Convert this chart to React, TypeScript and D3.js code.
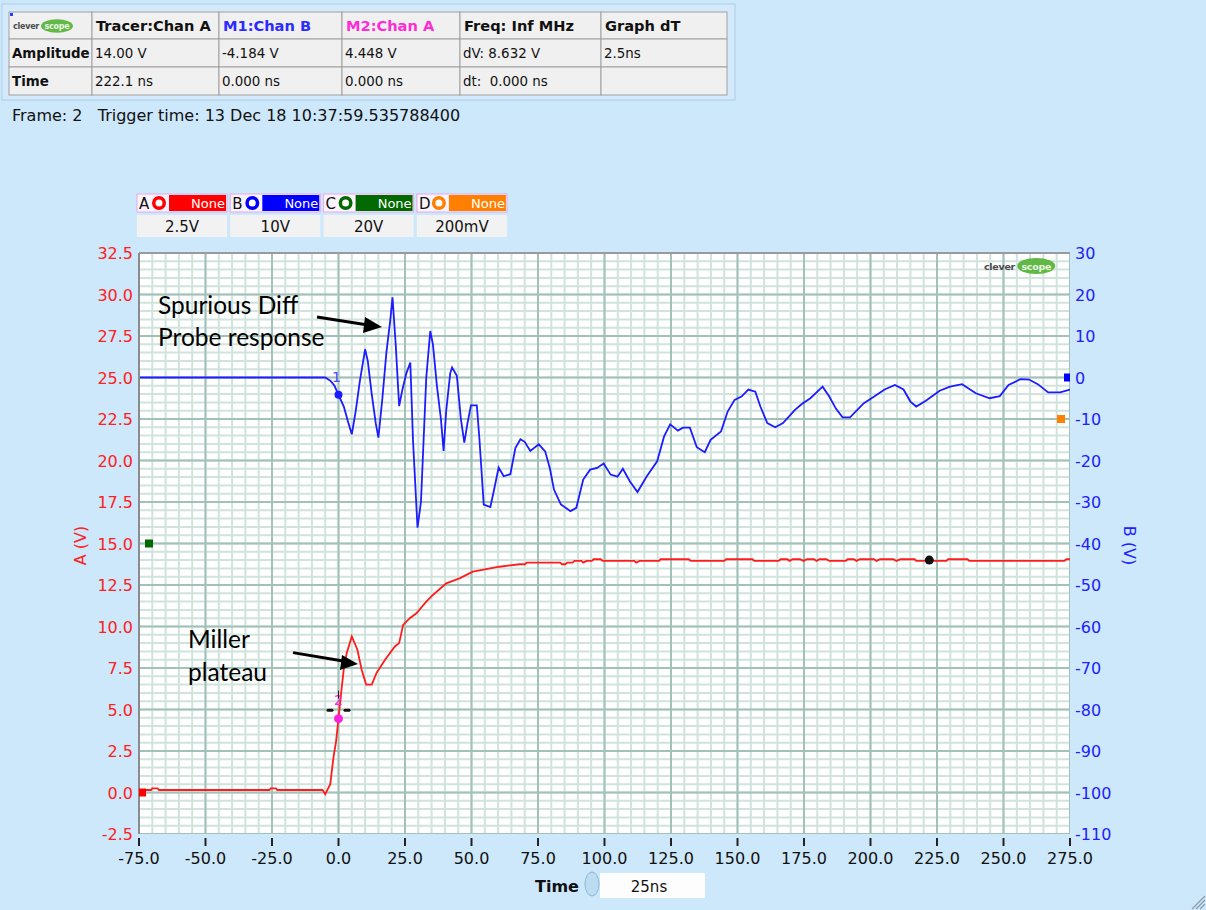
import * as d3 from "d3";
import React from "react";

// ---- data ----
const timeTicks = [-75, -50, -25, 0, 25, 50, 75, 100, 125, 150, 175, 200, 225, 250, 275];
const aTicks = [-2.5, 0, 2.5, 5, 7.5, 10, 12.5, 15, 17.5, 20, 22.5, 25, 27.5, 30, 32.5];
const bTicks = [30, 20, 10, 0, -10, -20, -30, -40, -50, -60, -70, -80, -90, -100, -110];

// Chan B (right axis, volts) vs time (ns)
const blueTrace: [number, number][] = [
  [-75, 0], [-5, 0], [-3, -0.8], [-1.5, -2], [0, -4.2], [2, -7], [3.5, -10.5], [5, -13.7],
  [6.5, -8], [8, -1], [10, 6.8], [11, 4], [12.5, -4], [14, -11], [15, -14.5], [16.5, -5],
  [18, 6], [19.5, 14], [20.3, 19.3], [21.5, 8], [22.8, -6.9], [24, -3], [25.5, 1], [27, 3.6],
  [28, -15], [29.7, -36.2], [31, -30], [32, -15], [33, 0], [34.5, 11.2], [35.5, 8], [37, -2],
  [38.5, -10], [39.5, -17.7], [40.5, -8], [42, 1], [42.7, 2.4], [44.5, 0.4], [46, -10],
  [47.3, -15.7], [48.5, -11], [49.8, -6.7], [52, -6.7], [53, -15], [54.6, -30.6], [57.1, -31.2],
  [58.5, -27], [60.2, -21.7], [62.1, -23.8], [64.6, -23.3], [66.5, -17], [68.4, -14.9],
  [70, -15.5], [72.1, -17.7], [75.3, -16.1], [77.7, -17.8], [79.5, -22], [81, -27], [83.6, -30.6],
  [87.2, -32.2], [89.4, -31.4], [92, -24.6], [94.6, -22.2], [97.2, -21.8], [99.7, -20.7],
  [102.3, -23.4], [104.9, -23.9], [106.9, -22], [109.5, -25], [112.4, -27.6], [115.9, -23.8],
  [119.8, -20.2], [122.4, -14.2], [124.7, -11.3], [127.6, -12.8], [129.5, -12.1], [132.1, -12.1],
  [134.7, -16.8], [137.7, -18], [139.9, -15], [143.8, -13], [146.3, -8.2], [148.9, -5.4],
  [151.5, -4.6], [154.1, -2.9], [156.7, -3.4], [158.6, -7], [161.2, -11], [164.2, -12],
  [167.1, -11], [171.6, -7.8], [174.2, -6.4], [177.4, -5], [182, -2.2], [184.5, -4.6],
  [187, -7.5], [189.5, -9.6], [192.3, -9.6], [197.5, -6.2], [201.4, -4.6], [205.3, -2.9],
  [209.2, -1.8], [212.4, -2.9], [215, -5.8], [217.2, -7], [220.8, -5.6], [226, -3.2],
  [229.9, -2.2], [234.4, -1.6], [239.6, -3.8], [244.8, -5], [248.6, -4.5], [251.9, -1.8],
  [256.4, -0.4], [259.6, -0.5], [262.9, -1.6], [266.8, -3.6], [271.3, -3.6], [275, -2.9],
];

// Chan A (left axis, volts) vs time (ns)
const redTrace: [number, number][] = [
  [-75, 0.15], [-70.5, 0.15], [-70, 0.25], [-68, 0.25], [-67.5, 0.15], [-26, 0.15], [-25.5, 0.25],
  [-23.5, 0.25], [-23, 0.15], [-6, 0.15], [-5, -0.1], [-3.1, 0.5], [-1.9, 2.1], [-0.9, 3.1],
  [0, 4.45], [1.2, 6.3], [2.1, 7.6], [3.1, 8.4], [5, 9.4], [7.1, 8.6], [8.7, 7.4], [10.4, 6.5],
  [12.5, 6.5], [14.3, 7.2], [17.5, 8.0], [21.2, 8.8], [22.8, 9.0], [24.3, 10.1], [26.8, 10.5],
  [29.3, 10.8], [33, 11.5], [35.5, 11.9], [40.5, 12.6], [45.5, 12.9], [50.5, 13.3], [55.5, 13.45],
  [60.5, 13.6], [68.1, 13.75], [70.1, 13.75], [70.8, 13.85], [83.4, 13.85], [84, 13.75],
  [85.3, 13.75], [86, 13.85], [88, 13.85], [88.7, 13.95], [91.3, 13.95], [92, 13.85], [93.3, 13.95],
  [95.3, 13.95], [95.9, 14.05], [98.6, 14.05], [99.3, 13.95], [111.2, 13.95], [111.9, 13.85],
  [113.2, 13.95], [120.5, 13.95], [121.1, 14.05], [131.7, 14.05], [132.4, 13.95], [145, 13.95],
  [145.7, 14.05], [155.6, 14.05], [156.3, 13.95], [165.5, 13.95], [166.2, 14.05], [168.8, 14.05],
  [169.5, 13.95], [170.8, 14.05], [173.5, 14.05], [174.8, 13.95], [176.1, 14.05], [178.8, 14.05],
  [179.7, 13.95], [180.8, 14.05], [183.4, 14.05], [184.5, 13.95], [190.7, 13.95], [191.4, 14.05],
  [193.8, 14.05], [194.7, 13.95], [196, 14.05], [201.3, 14.05], [202.3, 13.95], [203.6, 14.05],
  [208.6, 14.05], [209.7, 13.95], [211.3, 14.05], [216.6, 14.05], [217.2, 13.95], [228.5, 13.95],
  [229.2, 14.05], [236.5, 14.05], [237.1, 13.95], [272.9, 13.95], [273.6, 14.05], [275, 14.05],
];

const channelNames = ["A", "B", "C", "D"];
const channelColors = ["#ff0000", "#0000ff", "#006a00", "#ff8000"];
const channelScales = ["2.5V", "10V", "20V", "200mV"];

const headerRow = ["Tracer:Chan A", "M1:Chan B", "M2:Chan A", "Freq: Inf MHz", "Graph dT"];
const amplitudeRow = ["Amplitude", "14.00 V", "-4.184 V", "4.448 V", "dV: 8.632 V", "2.5ns"];
const timeRow = ["Time", "222.1 ns", "0.000 ns", "0.000 ns", "dt:  0.000 ns", ""];

const tracer = { t: 222.1, a: 14.0 };
const m1 = { t: 0, b: -4.184 };
const m2 = { t: 0, a: 4.448 };

const FONT = "DejaVu Sans, Verdana, sans-serif";

function Logo({ x, y, s = 1 }: { x: number; y: number; s?: number }) {
  return (
    <g transform={`translate(${x},${y}) scale(${s})`}>
      <text x={0} y={4} fontFamily={FONT} fontSize={10} fontWeight="bold" fill="#4a4a4a" letterSpacing={-0.3}>
        clever
      </text>
      <ellipse cx={55} cy={0} rx={20} ry={8.5} fill="#62b846" />
      <text x={55} y={4} textAnchor="middle" fontFamily={FONT} fontSize={10} fontWeight="bold" fill="#e8f6e0" letterSpacing={-0.3}>
        scope
      </text>
    </g>
  );
}

export default function App() {
  const L = 139, R = 1070, T = 253, B = 834;
  const x = d3.scaleLinear().domain([-75, 275]).range([L, R]);
  const yA = d3.scaleLinear().domain([-2.5, 32.5]).range([B, T]);
  const yB = d3.scaleLinear().domain([-110, 30]).range([B, T]);

  const minorX = d3.range(-75, 275.01, 5);
  const minorY = d3.range(-2.5, 32.51, 0.5);

  const blueLine = d3.line<[number, number]>().x(d => x(d[0])).y(d => yB(d[1]))(blueTrace) || "";
  const redLine = d3.line<[number, number]>().x(d => x(d[0])).y(d => yA(d[1]))(redTrace) || "";

  const cols = [9, 92, 219, 342, 460, 601, 727];
  const rows = [12, 39, 67, 95];

  return (
    <svg width={1206} height={910} style={{ position: "absolute", left: 0, top: 0 }}>
      <rect width={1206} height={910} fill="#cde8fb" />

      {/* readout table */}
      <rect x={2} y={4} width={733} height={96} fill="#d4eafb" stroke="#a9cdea" />
      {cols.slice(0, -1).map((cx, i) =>
        rows.slice(0, -1).map((ry, j) => (
          <rect key={`c${i}-${j}`} x={cx} y={ry} width={cols[i + 1] - cx} height={rows[j + 1] - ry}
            fill="#f0f0f0" stroke="#a0a0a0" strokeWidth={1} />
        ))
      )}
      <rect x={10} y={13} width={3} height={3} fill="#2040ff" />
      <Logo x={13} y={26} s={0.8} />
      {headerRow.map((h, i) => (
        <text key={h} x={cols[i + 1] + 4} y={31} fontFamily={FONT} fontSize={14.6} fontWeight="bold"
          fill={i === 1 ? "#2b2bff" : i === 2 ? "#ff2bd5" : "#111"}>{h}</text>
      ))}
      {amplitudeRow.map((h, i) => (
        <text key={`a${i}`} x={cols[i] + 3} y={58} fontFamily={FONT} fontSize={13.4}
          fontWeight={i === 0 ? "bold" : "normal"} fill="#111">{h}</text>
      ))}
      {timeRow.map((h, i) => (
        <text key={`t${i}`} x={cols[i] + 3} y={86} fontFamily={FONT} fontSize={13.4}
          fontWeight={i === 0 ? "bold" : "normal"} fill="#111" style={{ whiteSpace: "pre" }}>{h}</text>
      ))}
      <text x={12} y={121} fontFamily={FONT} fontSize={16} fill="#111" style={{ whiteSpace: "pre" }}>
        {"Frame: 2   Trigger time: 13 Dec 18 10:37:59.535788400"}
      </text>

      {/* channel boxes */}
      {channelNames.map((n, i) => {
        const bx = 137 + i * 93.3;
        return (
          <g key={n}>
            <rect x={bx} y={194} width={90} height={18} fill="#fdf4fd" stroke="#e6a8e6" />
            <text x={bx + 2} y={209} fontFamily={FONT} fontSize={15} fill="#111">{n}</text>
            <circle cx={bx + 22} cy={203} r={7} fill={channelColors[i]} />
            <circle cx={bx + 22} cy={203} r={3.5} fill="#fff" />
            <rect x={bx + 32} y={195} width={57} height={16} fill={channelColors[i]} />
            <text x={bx + 88} y={208} textAnchor="end" fontFamily={FONT} fontSize={13} fill="#fff">None</text>
            <rect x={bx} y={215} width={90} height={22} fill="#f2f2f2" />
            <text x={bx + 45} y={232} textAnchor="middle" fontFamily={FONT} fontSize={15} fill="#111">
              {channelScales[i]}
            </text>
          </g>
        );
      })}

      {/* plot area */}
      <defs>
        <clipPath id="plot">
          <rect x={L} y={T} width={R - L} height={B - T} />
        </clipPath>
      </defs>
      <rect x={L} y={T} width={R - L} height={B - T} fill="#fff" />
      <g clipPath="url(#plot)">
        {minorX.map(t => (
          <line key={`mx${t}`} x1={x(t)} x2={x(t)} y1={T} y2={B} stroke="#d0e3dd" strokeWidth={2} />
        ))}
        {minorY.map(v => (
          <line key={`my${v}`} x1={L} x2={R} y1={yA(v)} y2={yA(v)} stroke="#d0e3dd" strokeWidth={2} />
        ))}
        {timeTicks.map(t => (
          <line key={`Mx${t}`} x1={x(t)} x2={x(t)} y1={T} y2={B} stroke="#a2c2b9" strokeWidth={2} />
        ))}
        {aTicks.map(v => (
          <line key={`My${v}`} x1={L} x2={R} y1={yA(v)} y2={yA(v)} stroke="#a2c2b9" strokeWidth={2} />
        ))}
        <path d={blueLine} fill="none" stroke="#1c1cff" strokeWidth={1.8} />
        <path d={redLine} fill="none" stroke="#ff1c1c" strokeWidth={1.8} />
      </g>
      <line x1={L} x2={L} y1={T} y2={B} stroke="#8c8c8c" strokeWidth={2} />
      <line x1={L} x2={R} y1={T} y2={T} stroke="#9a9a9a" strokeWidth={2} />
      <Logo x={984} y={266} s={0.95} />

      {/* channel offset markers */}
      <rect x={139} y={yA(0) - 4} width={7} height={8} fill="#ff0000" />
      <rect x={145} y={yA(15) - 4} width={8} height={8} fill="#006a00" />
      <rect x={1064} y={yB(0) - 4} width={6} height={8} fill="#0000ff" />
      <rect x={1057} y={yB(-10) - 4} width={8} height={8} fill="#ff8000" />

      {/* markers */}
      <text x={x(m1.t) - 2} y={yB(m1.b) - 13} textAnchor="middle" fontFamily={FONT} fontSize={14} fill="#4a4aff">1</text>
      <circle cx={x(m1.t)} cy={yB(m1.b)} r={4} fill="#1c1cff" />
      <text x={x(m2.t)} y={yA(m2.a) - 14} textAnchor="middle" fontFamily={FONT} fontSize={14} fill="#ff22dd">2</text>
      <circle cx={x(m2.t)} cy={yA(m2.a)} r={4.5} fill="#ff22dd" />
      <line x1={x(m2.t)} x2={x(m2.t)} y1={yA(m2.a) - 28} y2={yA(m2.a) - 20} stroke="#222" strokeWidth={1} />
      <rect x={x(m2.t) - 12} y={yA(m2.a) - 10} width={7} height={3} rx={1.5} fill="#111" />
      <rect x={x(m2.t) + 5} y={yA(m2.a) - 10} width={7} height={3} rx={1.5} fill="#111" />
      <circle cx={x(tracer.t)} cy={yA(tracer.a)} r={4.5} fill="#111" />

      {/* annotations */}
      <g fontFamily="Lato, Open Sans, sans-serif" fontSize={24.5} fill="#000">
        <text x={158} y={314}>Spurious Diff</text>
        <text x={158} y={346}>Probe response</text>
        <text x={188} y={648}>Miller</text>
        <text x={188} y={681}>plateau</text>
      </g>
      <g stroke="#000" strokeWidth={2.8}>
        <line x1={317} y1={317} x2={368} y2={325} />
        <line x1={293} y1={652.7} x2={343} y2={661} />
      </g>
      <polygon points="382,327 365,317 363,333" fill="#000" />
      <polygon points="358,664 342,655 340,670" fill="#000" />

      {/* left axis */}
      {aTicks.map(v => (
        <text key={`la${v}`} x={133} y={yA(v) + 6} textAnchor="end" fontFamily={FONT} fontSize={16} fill="#ff2020">
          {v.toFixed(1)}
        </text>
      ))}
      <text transform={`translate(86,${(T + B) / 2 + 2}) rotate(-90)`} textAnchor="middle" fontFamily={FONT} fontSize={16} fill="#ff2020">
        A (V)
      </text>

      {/* right axis */}
      {bTicks.map(v => (
        <text key={`rb${v}`} x={1075} y={yB(v) + 6} fontFamily={FONT} fontSize={16} fill="#2020ff">{v}</text>
      ))}
      <text transform={`translate(1124,${(T + B) / 2 + 2}) rotate(90)`} textAnchor="middle" fontFamily={FONT} fontSize={16} fill="#2020ff">
        B (V)
      </text>

      {/* bottom axis */}
      {timeTicks.map(t => (
        <g key={`bt${t}`}>
          <line x1={x(t)} x2={x(t)} y1={838} y2={846} stroke="#222" strokeWidth={2} />
          <text x={x(t)} y={864} textAnchor="middle" fontFamily={FONT} fontSize={16} fill="#111">{t.toFixed(1)}</text>
        </g>
      ))}
      <text x={535} y={892} fontFamily={FONT} fontSize={16} fontWeight="bold" fill="#111">Time</text>
      <ellipse cx={592} cy={884} rx={7} ry={12} fill="#bcdcf2" stroke="#8fb8d8" />
      <rect x={600} y={873} width={105} height={25} fill="#fdfdfd" />
      <text x={649} y={892} textAnchor="middle" fontFamily={FONT} fontSize={15} fill="#111">25ns</text>

      {/* resize grip */}
      <g stroke="#8a9aa8" strokeWidth={1.2}>
        <line x1={1192} y1={909} x2={1205} y2={896} />
        <line x1={1196} y1={909} x2={1205} y2={900} />
        <line x1={1200} y1={909} x2={1205} y2={904} />
      </g>
    </svg>
  );
}
